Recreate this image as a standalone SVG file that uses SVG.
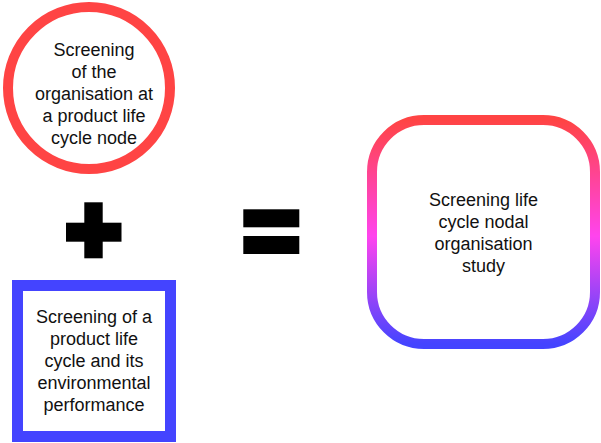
<svg xmlns="http://www.w3.org/2000/svg" width="601" height="443" viewBox="0 0 601 443">
<defs>
<linearGradient id="g" x1="0" y1="0" x2="0" y2="1">
<stop offset="0" stop-color="#FF4444"/>
<stop offset="0.52" stop-color="#FF44EE"/>
<stop offset="1" stop-color="#4444FF"/>
</linearGradient>
<style>
text{font-family:"Liberation Sans",Arial,sans-serif;font-size:18px;fill:#111;text-anchor:middle}
.op{fill:#000}
</style>
</defs>
<rect width="601" height="443" fill="#fff"/>
<g id="circle-node">
<circle cx="89" cy="88" r="81" fill="#fff" stroke="#FF4444" stroke-width="10"/>
<text x="94" y="56">Screening</text>
<text x="94" y="78">of the</text>
<text x="94" y="100">organisation at</text>
<text x="94" y="122">a product life</text>
<text x="94" y="144">cycle node</text>
</g>
<g id="square-node">
<rect x="17.5" y="285.5" width="153" height="151" fill="#fff" stroke="#4444FF" stroke-width="11"/>
<text x="94" y="323">Screening of a</text>
<text x="94" y="345">product life</text>
<text x="94" y="367">cycle and its</text>
<text x="94" y="389">environmental</text>
<text x="94" y="411">performance</text>
</g>
<g id="result-node">
<rect x="372" y="120" width="223" height="224" rx="52" ry="52" fill="#fff" stroke="url(#g)" stroke-width="10"/>
<text x="483.5" y="206">Screening life</text>
<text x="483.5" y="228">cycle nodal</text>
<text x="483.5" y="250">organisation</text>
<text x="483.5" y="272">study</text>
</g>
<g id="connectors">
<g id="plus" class="op">
<rect x="66" y="222.7" width="55.5" height="19"/>
<rect x="84.3" y="202.3" width="18.4" height="56"/>
</g>
<g id="equals" class="op">
<rect x="243.3" y="209.3" width="56" height="18"/>
<rect x="243.3" y="236" width="56" height="18"/>
</g>
</g>
</svg>
